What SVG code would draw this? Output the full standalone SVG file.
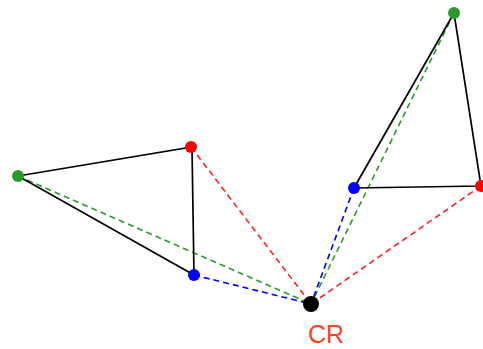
<svg xmlns="http://www.w3.org/2000/svg" width="483" height="349" viewBox="0 0 483 349">
<style>
.e{stroke:#000;stroke-width:1.7;fill:none}
.d{stroke-width:1.6;stroke-dasharray:6,4;fill:none}
.g{stroke:#2a9a2a}.r{stroke:#ff2020}.b{stroke:#0000ff}
</style>
<rect width="483" height="349" fill="#fff"/>
<g id="connectors">
<line class="d g" x1="18" y1="176" x2="311" y2="304"/>
<line class="d r" x1="191" y1="147" x2="311" y2="304"/>
<line class="d b" x1="194" y1="275" x2="311" y2="304"/>
<line class="d g" x1="454" y1="13" x2="311" y2="304"/>
<line class="d b" x1="354" y1="188" x2="311" y2="304"/>
<line class="d r" x1="481" y1="186" x2="311" y2="304"/>
</g>
<g id="triangle-left">
<polygon class="e" points="18,176 192,147 194,275"/>
<circle cx="18" cy="176" r="6" fill="#2a9a2a"/>
<circle cx="191" cy="147" r="6" fill="#ff0000"/>
<circle cx="194" cy="275" r="6" fill="#0000ff"/>
</g>
<g id="triangle-right">
<polygon class="e" points="454,13 354,188 481,186"/>
<circle cx="454" cy="13" r="6" fill="#2a9a2a"/>
<circle cx="354" cy="188" r="6" fill="#0000ff"/>
<circle cx="481" cy="186" r="6" fill="#ff0000"/>
</g>
<g id="CR">
<circle cx="311" cy="304" r="8" fill="#000"/>
<text x="326" y="343" text-anchor="middle" font-family="Liberation Sans, Arial, sans-serif" font-size="25" fill="#ff4020">CR</text>
</g>
</svg>
